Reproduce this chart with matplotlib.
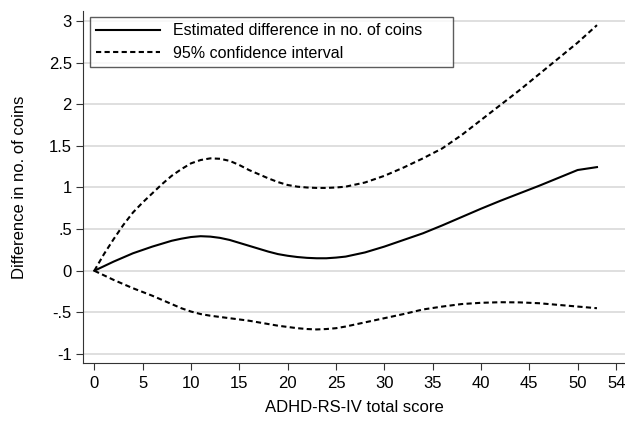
import matplotlib.pyplot as plt

plt.rcParams['font.family'] = ['Liberation Sans', 'DejaVu Sans']

score = [0, 1, 2, 3, 4, 5, 6, 7, 8, 9, 10, 11, 12, 13, 14, 15, 16, 17, 18, 19, 20,
         21, 22, 23, 24, 25, 26, 28, 30, 32, 34, 36, 38, 40, 42, 44, 46, 48, 50, 52]
estimate = [0, 0.055, 0.11, 0.16, 0.21, 0.25, 0.29, 0.325, 0.36, 0.385, 0.405,
            0.415, 0.41, 0.395, 0.37, 0.335, 0.30, 0.265, 0.23, 0.20, 0.18,
            0.165, 0.155, 0.15, 0.15, 0.158, 0.17, 0.22, 0.29, 0.37, 0.45, 0.545,
            0.645, 0.745, 0.84, 0.93, 1.02, 1.115, 1.21, 1.245]
upper = [0, 0.2, 0.38, 0.55, 0.70, 0.82, 0.93, 1.04, 1.14, 1.22, 1.29,
         1.33, 1.35, 1.345, 1.32, 1.27, 1.21, 1.16, 1.11, 1.065, 1.03,
         1.01, 1.0, 0.995, 0.995, 1.0, 1.01, 1.06, 1.14, 1.24, 1.35, 1.47,
         1.63, 1.81, 1.99, 2.17, 2.36, 2.55, 2.74, 2.95]
lower = [0, -0.055, -0.11, -0.16, -0.21, -0.255, -0.30, -0.35, -0.40, -0.45, -0.49,
         -0.52, -0.54, -0.555, -0.57, -0.585, -0.60, -0.62, -0.64, -0.66, -0.675,
         -0.69, -0.70, -0.705, -0.70, -0.69, -0.67, -0.62, -0.57, -0.52, -0.465, -0.43,
         -0.40, -0.385, -0.378, -0.38, -0.39, -0.41, -0.43, -0.45]

xticks = [0, 5, 10, 15, 20, 25, 30, 35, 40, 45, 50, 54]
yticks = [-1, -0.5, 0, 0.5, 1, 1.5, 2, 2.5, 3]
ylabels = ['-1', '-.5', '0', '.5', '1', '1.5', '2', '2.5', '3']

fig = plt.figure(figsize=(6.25, 4.23), dpi=100)
ax = fig.add_axes([83 / 625, 60 / 423, 542 / 625, 352 / 423])

ax.plot(score, estimate, color='black', lw=1.5, label='Estimated difference in no. of coins')
ax.plot(score, upper, color='black', lw=1.5, dashes=(2.5, 1.6), label='95% confidence interval')
ax.plot(score, lower, color='black', lw=1.5, dashes=(2.5, 1.6))

ax.set_xlim(-1.17, 54.9)
ax.set_ylim(-1.108, 3.12)
ax.set_xticks(xticks)
ax.set_yticks(yticks)
ax.set_yticklabels(ylabels)
ax.grid(axis='y', color='#dcdcdc', lw=1.3)
ax.set_axisbelow(True)
for s in ['top', 'right']:
    ax.spines[s].set_visible(False)
for s in ['left', 'bottom']:
    ax.spines[s].set_color('#333333')
ax.tick_params(labelsize=12, length=5, color='#333333')
ax.tick_params(axis='x', pad=4)
ax.tick_params(axis='y', pad=3)

ax.set_xlabel('ADHD-RS-IV total score', fontsize=12, labelpad=7)
ax.set_ylabel('Difference in no. of coins', fontsize=12, labelpad=16)

# legend box stretched to the width seen in the original
leg = ax.legend(loc='upper left', bbox_to_anchor=(7 / 542, 0, 363 / 542, 1 - 6 / 352),
                mode='expand', borderaxespad=0,
                fontsize=11.5, handlelength=4.0, frameon=True, fancybox=False,
                borderpad=0.4, labelspacing=0.45, handletextpad=0.8)
leg.get_frame().set_edgecolor('#333333')
leg.get_frame().set_linewidth(1.0)

fig.savefig('out.png', dpi=100)
